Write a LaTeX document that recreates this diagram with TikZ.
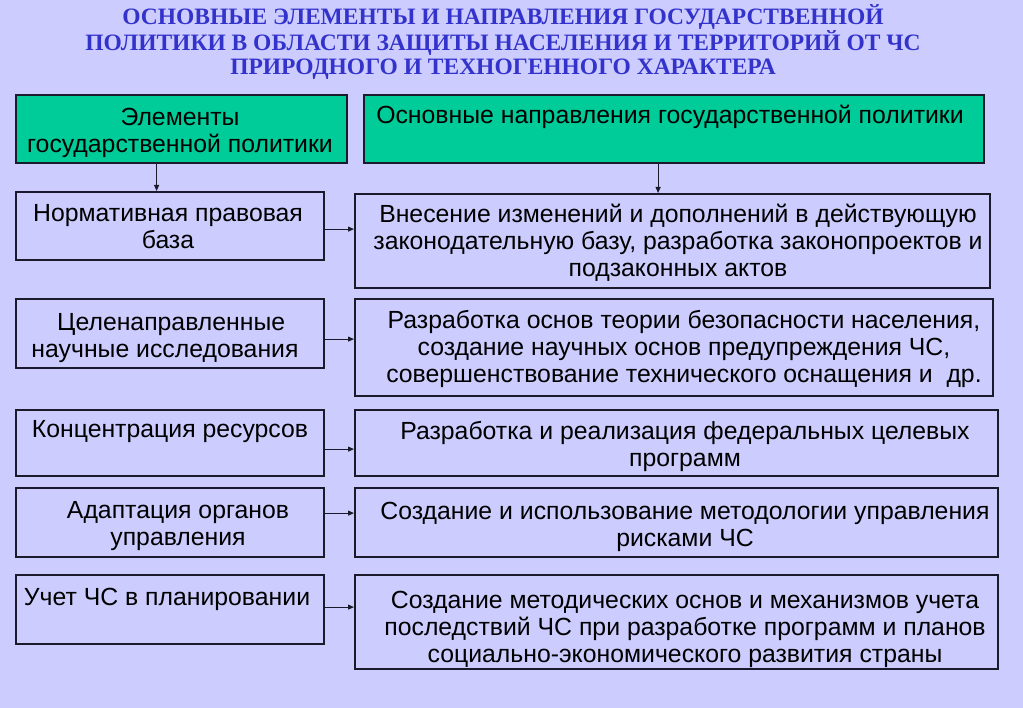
\documentclass[tikz,border=0pt]{standalone}
\usepackage{fontspec}
\setmainfont{Liberation Sans}
\newfontfamily\titlefont{Liberation Serif}
\usepackage{tikz}
\usetikzlibrary{positioning}
\usetikzlibrary{arrows.meta}

\definecolor{bgcol}{HTML}{CCCCFF}
\definecolor{headgreen}{HTML}{00CC99}
\definecolor{titleblue}{HTML}{3333CC}
\definecolor{edgecol}{HTML}{1A1A2A}

\tikzset{
    box/.style={draw=edgecol, line width=2.2pt, anchor=north west, inner sep=0pt},
    headbox/.style={box, fill=headgreen},
    txt/.style={anchor=base, align=center, inner sep=0pt, font=\fontsize{24.8}{27}\selectfont},
    link/.style={-{Triangle[length=6pt,width=5pt]}, line width=1pt, edgecol}
}

\begin{document}
\begin{tikzpicture}[x=1pt, y=-1pt]

    % Background
    \fill[bgcol] (0,0) rectangle (1023,708);
    \useasboundingbox (0,0) rectangle (1023,708);

    % Title (anchor = baseline of last line)
    \node[anchor=base, align=center, inner sep=0pt, text=titleblue,
          font=\titlefont\bfseries\fontsize{23.5}{24.8}\selectfont] (title) at (503,75)
        {ОСНОВНЫЕ ЭЛЕМЕНТЫ И НАПРАВЛЕНИЯ ГОСУДАРСТВЕННОЙ\\
         ПОЛИТИКИ В ОБЛАСТИ ЗАЩИТЫ НАСЕЛЕНИЯ И ТЕРРИТОРИЙ ОТ ЧС\\
         ПРИРОДНОГО И ТЕХНОГЕННОГО ХАРАКТЕРА};

    % Header boxes
    \node[headbox, minimum width=331, minimum height=68] (elemhead) at (15,94) {};
    \node[headbox, minimum width=620, minimum height=68] (dirhead) at (363,94) {};
    \node[txt] (elemheadtxt) at (180,153) {Элементы\\государственной политики};
    \node[txt] (dirheadtxt) at (670,124) {Основные направления государственной политики};

    % Left column: elements
    \node[box, minimum width=308, minimum height=68] (elemA) at (15,191) {};
    \node[box, minimum width=308, minimum height=69] (elemB) at (15,298) {};
    \node[box, minimum width=308, minimum height=66] (elemC) at (15,409) {};
    \node[box, minimum width=308, minimum height=69] (elemD) at (15,487) {};
    \node[box, minimum width=308, minimum height=69] (elemE) at (15,574) {};

    \node[txt] (elemAtxt) at (168,249) {Нормативная правовая\\база};
    \node[txt] (elemBtxt) at (165,358) {\hspace*{0.5em}Целенаправленные\\научные исследования};
    \node[txt] (elemCtxt) at (170,438) {Концентрация ресурсов};
    \node[txt] (elemDtxt) at (178,545) {Адаптация органов\\управления};
    \node[txt] (elemEtxt) at (167,605) {Учет ЧС в планировании};

    % Right column: directions
    \node[box, minimum width=635, minimum height=94] (dirA) at (354,193) {};
    \node[box, minimum width=638, minimum height=97] (dirB) at (354,298) {};
    \node[box, minimum width=643, minimum height=66] (dirC) at (354,409) {};
    \node[box, minimum width=643, minimum height=69] (dirD) at (354,487) {};
    \node[box, minimum width=643, minimum height=94] (dirE) at (354,574) {};

    \node[txt] (dirAtxt) at (678,277)
        {Внесение изменений и дополнений в действующую\\
         законодательную базу, разработка законопроектов и\\
         подзаконных актов};
    \node[txt] (dirBtxt) at (684,383)
        {Разработка основ теории безопасности населения,\\
         создание научных основ предупреждения ЧС,\\
         совершенствование технического оснащения и~ др.};
    \node[txt] (dirCtxt) at (685,466)
        {Разработка и реализация федеральных целевых\\программ};
    \node[txt] (dirDtxt) at (685,546)
        {Создание и использование методологии управления\\рисками ЧС};
    \node[txt] (dirEtxt) at (685,662)
        {Создание методических основ и механизмов учета\\
         последствий ЧС при разработке программ и планов\\
         социально-экономического развития страны};

    % Connectors
    \draw[link] ([xshift=-25pt]elemhead.south) -- ([xshift=-25pt]elemhead.south |- elemA.north);
    \draw[link] ([xshift=-16pt]dirhead.south) -- ([xshift=-16pt]dirhead.south |- dirA.north);

    \draw[link] ([yshift=-3pt]elemA.east) -- ([yshift=-3pt]elemA.east -| dirA.west);
    \draw[link] ([yshift=-5.5pt]elemB.east) -- ([yshift=-5.5pt]elemB.east -| dirB.west);
    \draw[link] ([yshift=-6pt]elemC.east) -- ([yshift=-6pt]elemC.east -| dirC.west);
    \draw[link] ([yshift=9.5pt]elemD.east) -- ([yshift=9.5pt]elemD.east -| dirD.west);
    \draw[link] ([yshift=2.5pt]elemE.east) -- ([yshift=2.5pt]elemE.east -| dirE.west);

\end{tikzpicture}
\end{document}
